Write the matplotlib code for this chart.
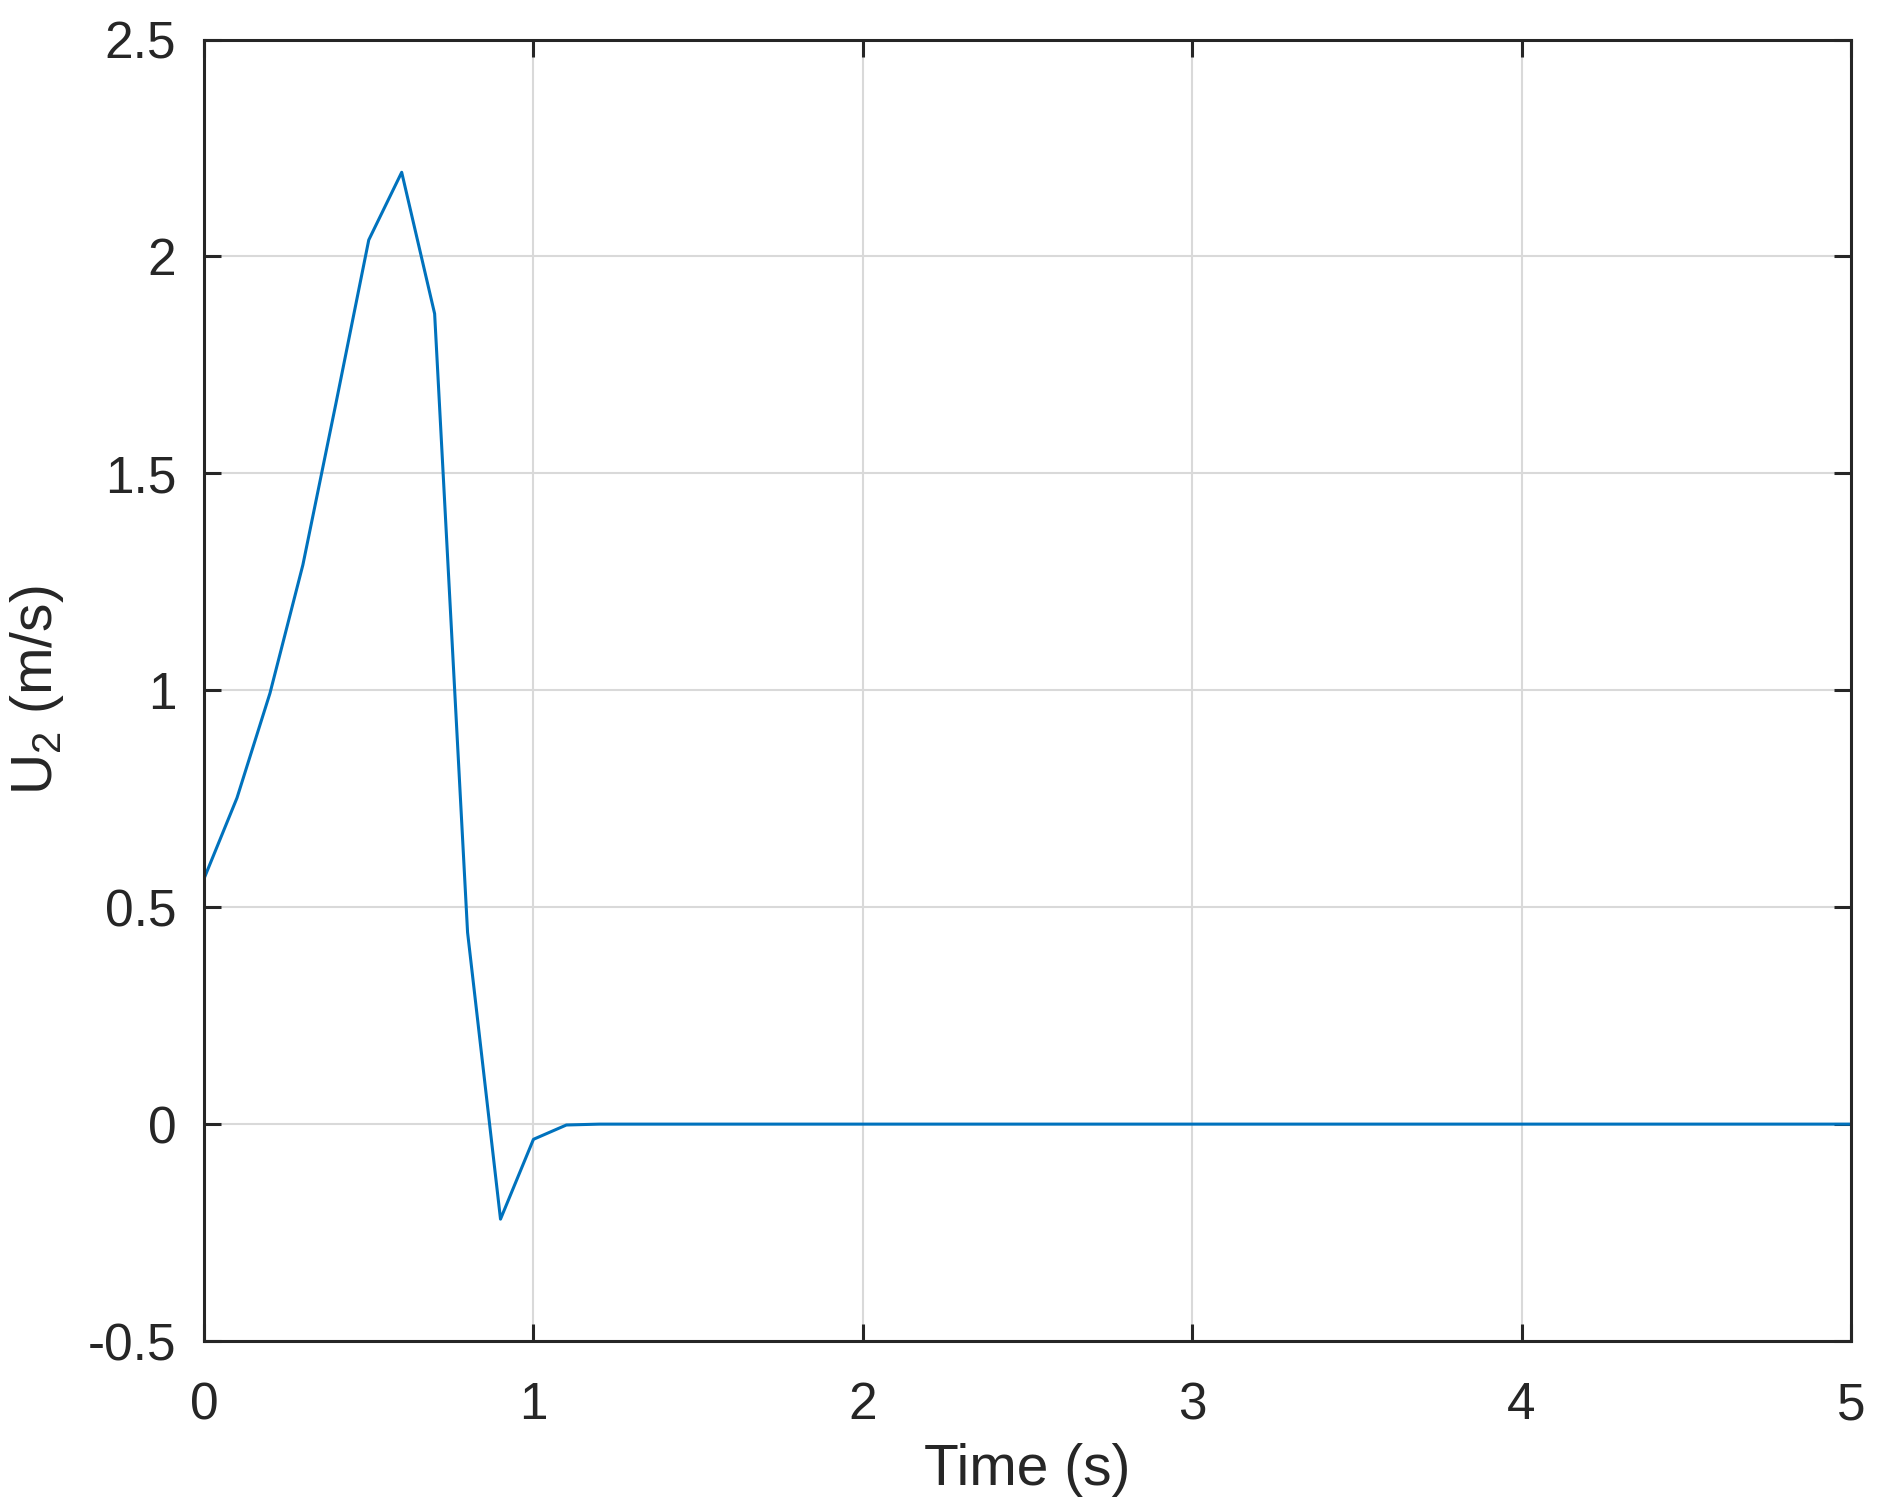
import numpy as np
import matplotlib
matplotlib.use("Agg")
import matplotlib.pyplot as plt

# time samples (s) and measured velocity U2 (m/s)
t = [0.0, 0.1, 0.2, 0.3, 0.4, 0.5, 0.6, 0.7, 0.8, 0.9, 1.0, 1.1, 1.2, 5.0]
u2 = [0.566, 0.752, 0.993, 1.289, 1.66, 2.038, 2.194, 1.868, 0.442, -0.219,
      -0.035, -0.002, 0.0, 0.0]

xticks = [0, 1, 2, 3, 4, 5]
yticks = [-0.5, 0, 0.5, 1, 1.5, 2, 2.5]
ytick_labels = ["-0.5", "0", "0.5", "1", "1.5", "2", "2.5"]

plt.rcParams['font.family'] = ['Liberation Sans', 'DejaVu Sans']
plt.rcParams['mathtext.default'] = 'regular'

txt = '#262626'

fig = plt.figure(figsize=(18.79, 15.09), dpi=100)
ax = fig.add_axes([0.1086, 0.1113, 0.8765, 0.8625])

ax.plot(t, u2, color='#0072BD', lw=2.2)

ax.set_xlim(0, 5)
ax.set_ylim(-0.5, 2.5)
ax.set_xticks(xticks)
ax.set_yticks(yticks)
ax.set_yticklabels(ytick_labels)

ax.grid(True, color='#d9d9d9', lw=1.5)
ax.set_axisbelow(True)

for s in ax.spines.values():
    s.set_linewidth(2.2)
    s.set_color(txt)

ax.tick_params(direction='in', length=12, width=2.2, colors=txt,
               labelsize=37, top=True, right=True)
ax.tick_params(axis='x', pad=29)
ax.tick_params(axis='y', pad=20)

ax.set_xlabel('Time (s)', fontsize=41, color=txt, labelpad=9)
ax.set_ylabel('U$_2$ (m/s)', fontsize=41, color=txt, labelpad=16)

fig.savefig('out.png', dpi=100)
